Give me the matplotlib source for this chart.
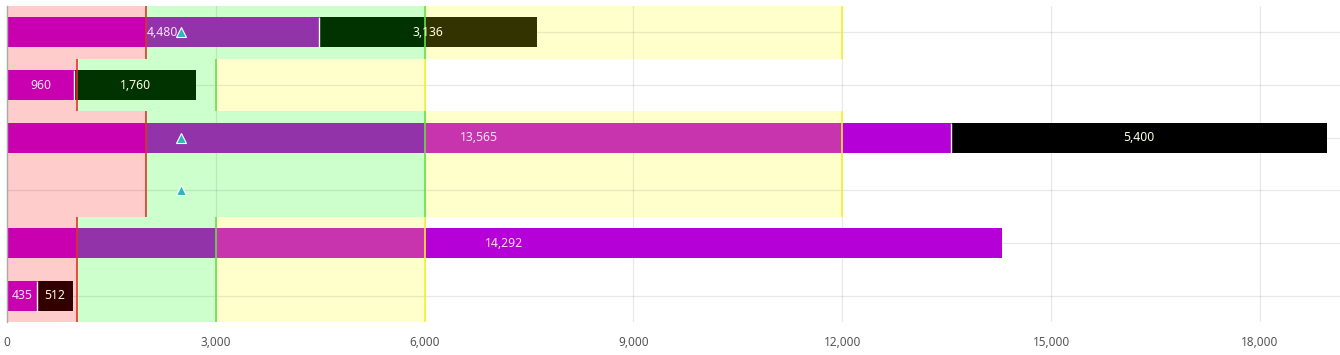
import numpy as np
import matplotlib
matplotlib.use("Agg")
import matplotlib.pyplot as plt
from matplotlib.ticker import FuncFormatter

plt.rcParams['font.family'] = ['Noto Sans', 'DejaVu Sans']

# six rows, top to bottom (no category labels shown in the chart)
rows = ["r1", "r2", "r3", "r4", "r5", "r6"]
actual = [4480, 960, 13565, 0, 14292, 435]
extra = [3136, 1760, 5400, 0, 0, 512]
target = [2500, np.nan, 2500, 2500, np.nan, np.nan]
# end of the poor / ok / good ranges for each row
band_ends = [
    [2000, 6000, 12000],
    [1000, 3000, 6000],
    [2000, 6000, 12000],
    [2000, 6000, 12000],
    [1000, 3000, 6000],
    [1000, 3000, 6000],
]
x_ticks = [0, 3000, 6000, 9000, 12000, 15000, 18000]

band_fill = ['#FFCCCC', '#CCFFCC', '#FFFFCC']
band_line = ['#E0302A', '#66E04A', '#F4F030']
# bar colour depends on which range it falls in (last entry = past all ranges)
actual_col = ['#C800AF', '#9333AA', '#C833AE', '#B500D8']
extra_col = ['#330000', '#003300', '#333300', '#000000']

fig = plt.figure(figsize=(13.4, 3.55), dpi=100)
ax = fig.add_axes([7 / 1340, 1 - 322 / 355, 1 - 7 / 1340, 316 / 355])
ax.set_xlim(0, 19150)
ax.set_ylim(len(rows) - 0.5, -0.5)

bar_h = 0.57


def draw_segmented(y, x0, x1, ends, colors):
    edges = [0] + list(ends) + [np.inf]
    for k in range(len(edges) - 1):
        a = max(x0, edges[k])
        b = min(x1, edges[k + 1])
        if b > a:
            ax.barh(y, b - a, left=a, height=bar_h, color=colors[k],
                    linewidth=0, zorder=2)


for i, ends in enumerate(band_ends):
    starts = [0] + ends[:-1]
    for k in range(3):
        ax.barh(i, ends[k] - starts[k], left=starts[k], height=1.0,
                color=band_fill[k], linewidth=0, zorder=1)
        ax.plot([ends[k], ends[k]], [i - 0.5, i + 0.5], color=band_line[k],
                lw=1.3, zorder=3, alpha=0.9, solid_capstyle='butt')

    a, e = actual[i], extra[i]
    if a > 0:
        draw_segmented(i, 0, a, ends, actual_col)
        ax.text(a / 2, i, f"{a:,}", ha='center', va='center', fontsize=8.8,
                color='#FFE0F6', zorder=5)
    if e > 0:
        draw_segmented(i, a, a + e, ends, extra_col)
        ax.text(a + e / 2, i, f"{e:,}", ha='center', va='center', fontsize=8.8,
                color='#FFFFE6', zorder=5)
        if a > 0:
            ax.plot([a, a], [i - bar_h / 2, i + bar_h / 2], color='white',
                    lw=1.0, zorder=2.5, solid_capstyle='butt')

# target markers
for i, t in enumerate(target):
    if not np.isnan(t):
        ms = 7.5 if actual[i] > 0 else 6.8
        ax.plot(t, i, marker='^', ms=ms, color='#2BB5BE', mec='white',
                mew=0.8, zorder=4, linestyle='none')

# grid
for xt in x_ticks[1:]:
    ax.axvline(xt, color='black', alpha=0.09, lw=0.9, zorder=1.5)
for i in range(len(rows)):
    ax.axhline(i, color='black', alpha=0.09, lw=0.9, zorder=1.5)

ax.set_xticks(x_ticks)
ax.xaxis.set_major_formatter(FuncFormatter(lambda v, p: f"{int(v):,}"))
ax.tick_params(axis='x', length=0, pad=10, labelsize=8.5, labelcolor='#555555')
ax.set_yticks([])
for s in ['top', 'right', 'bottom']:
    ax.spines[s].set_visible(False)
ax.spines['left'].set_color('#AAAAAA')
ax.spines['left'].set_linewidth(1.0)
ax.spines['left'].set_zorder(6)

fig.savefig("out.png", dpi=100)
